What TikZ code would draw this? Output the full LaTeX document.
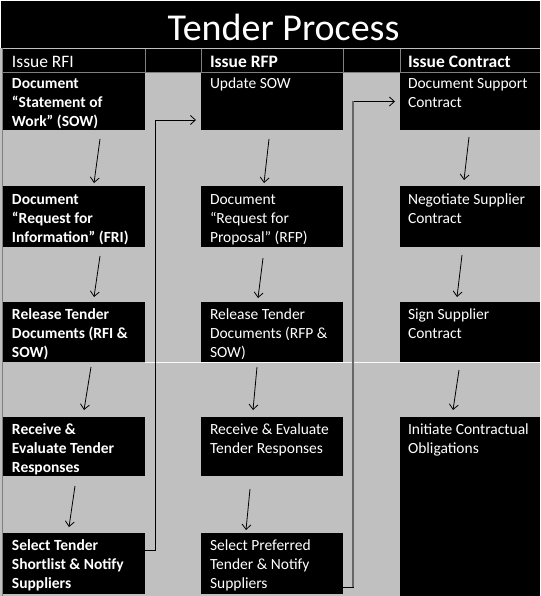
\documentclass[tikz,border=0pt]{standalone}
\usepackage{fontspec}
\setmainfont{Carlito}
\usetikzlibrary{arrows.meta}
\definecolor{bggray}{HTML}{C0C0C0}
\definecolor{bordergray}{HTML}{808080}
\definecolor{linegray}{HTML}{666666}
\begin{document}
\begin{tikzpicture}[x=1pt,y=-1pt,
  cell/.style={fill=black, draw=none, inner sep=0pt, outer sep=0pt, anchor=north west},
  wideA/.style={minimum width=142pt},
  wideC/.style={minimum width=140pt},
  txt/.style={text=white, inner sep=0pt, outer sep=0pt, anchor=north west, align=left,
    font=\fontsize{15.5}{19}\selectfont},
  head/.style={text=white, inner sep=0pt, outer sep=0pt, anchor=base west,
    font=\fontsize{17.5}{21}\selectfont},
  darr/.style={draw=black, line width=0.8pt, -{Straight Barb[length=5pt,width=9pt]}},
  conn/.style={draw=black, line width=0.8pt, -{Straight Barb[length=5pt,width=9pt]}},
  sep/.style={draw=bordergray, line width=0.8pt}
]
\useasboundingbox (0,0) rectangle (540,596);
\fill[white] (0,0) rectangle (540,596);
\fill[bggray] (0,48) rectangle (540,596);
% title bar
\fill[black] (1,1) rectangle (540,48.5);
\node[text=white, inner sep=0pt, anchor=base, font=\fontsize{38}{44}\selectfont] (title) at (283.5,40.5) {Tender Process};
% header row
\fill[black] (3,49) rectangle (540,72);
\draw[sep] (145,49) -- (145,72);
\draw[sep] (201,49) -- (201,72);
\draw[sep] (343,49) -- (343,72);
\draw[sep] (400,49) -- (400,72);
\draw[sep] (3,72.3) -- (540,72.3);
\draw[sep] (2.5,48) -- (2.5,596);
\node[head] (h1) at (12,67.5) {Issue RFI};
\node[head] (h2) at (210,67.5) {\bfseries Issue RFP};
\node[head] (h3) at (408,67.5) {\bfseries Issue Contract};
% boxes column 1
\node[cell,wideA,minimum height=57pt] (b11) at (3,73) {};
\node[cell,wideA,minimum height=61pt] (b12) at (3,186) {};
\node[cell,wideA,minimum height=60pt] (b13) at (3,302) {};
\node[cell,wideA,minimum height=59pt] (b14) at (3,417) {};
\node[cell,wideA,minimum height=61pt] (b15) at (3,533) {};
% boxes column 2
\node[cell,wideA,minimum height=57pt] (b21) at (201,73) {};
\node[cell,wideA,minimum height=61pt] (b22) at (201,186) {};
\node[cell,wideA,minimum height=60pt] (b23) at (201,302) {};
\node[cell,wideA,minimum height=59pt] (b24) at (201,417) {};
\node[cell,wideA,minimum height=61pt] (b25) at (201,533) {};
% boxes column 3
\node[cell,wideC,minimum height=57pt] (b31) at (400,73) {};
\node[cell,wideC,minimum height=61pt] (b32) at (400,186) {};
\node[cell,wideC,minimum height=60pt] (b33) at (400,302) {};
\node[cell,wideC,minimum height=179pt] (b34) at (400,417) {};
% faint white line
\draw[white!90!bggray, line width=0.8pt] (145,362) -- (540,362);
% texts column 1
\node[txt] (t11) at ([xshift=9pt,yshift=-4pt]b11.north west) {\bfseries\rule{0pt}{12pt}Document\\\bfseries “Statement of\\\bfseries Work” (SOW)};
\node[txt] (t12) at ([xshift=9pt,yshift=-6pt]b12.north west) {\bfseries\rule{0pt}{12pt}Document\\\bfseries “Request for\\\bfseries Information” (FRI)};
\node[txt] (t13) at ([xshift=9pt,yshift=-5pt]b13.north west) {\bfseries\rule{0pt}{12pt}Release Tender\\\bfseries Documents (RFI \&\\\bfseries SOW)};
\node[txt] (t14) at ([xshift=9pt,yshift=-5pt]b14.north west) {\bfseries\rule{0pt}{12pt}Receive \&\\\bfseries Evaluate Tender\\\bfseries Responses};
\node[txt] (t15) at ([xshift=9pt,yshift=-5pt]b15.north west) {\bfseries\rule{0pt}{12pt}Select Tender\\\bfseries Shortlist \& Notify\\\bfseries Suppliers};
% texts column 2
\node[txt] (t21) at ([xshift=9pt,yshift=-4pt]b21.north west) {\rule{0pt}{12pt}Update SOW};
\node[txt] (t22) at ([xshift=9pt,yshift=-6pt]b22.north west) {\rule{0pt}{12pt}Document\\“Request for\\Proposal” (RFP)};
\node[txt] (t23) at ([xshift=9pt,yshift=-5pt]b23.north west) {\rule{0pt}{12pt}Release Tender\\Documents (RFP \&\\SOW)};
\node[txt] (t24) at ([xshift=9pt,yshift=-5pt]b24.north west) {\rule{0pt}{12pt}Receive \& Evaluate\\Tender Responses};
\node[txt] (t25) at ([xshift=9pt,yshift=-5pt]b25.north west) {\rule{0pt}{12pt}Select Preferred\\Tender \& Notify\\Suppliers};
% texts column 3
\node[txt] (t31) at ([xshift=8pt,yshift=-4pt]b31.north west) {\rule{0pt}{12pt}Document Support\\Contract};
\node[txt] (t32) at ([xshift=8pt,yshift=-6pt]b32.north west) {\rule{0pt}{12pt}Negotiate Supplier\\Contract};
\node[txt] (t33) at ([xshift=8pt,yshift=-5pt]b33.north west) {\rule{0pt}{12pt}Sign Supplier\\Contract};
\node[txt] (t34) at ([xshift=8pt,yshift=-5pt]b34.north west) {\rule{0pt}{12pt}Initiate Contractual\\Obligations};
% down arrows column 1
\draw[darr] ([xshift=97pt,yshift=-9pt]b11.south west) -- ([xshift=91pt,yshift=3pt]b12.north west);
\draw[darr] ([xshift=97pt,yshift=-9pt]b12.south west) -- ([xshift=91pt,yshift=5pt]b13.north west);
\draw[darr] ([xshift=88pt,yshift=-5pt]b13.south west) -- ([xshift=81pt,yshift=7pt]b14.north west);
\draw[darr] ([xshift=72pt,yshift=-10pt]b14.south west) -- ([xshift=66pt,yshift=6pt]b15.north west);
% down arrows column 2
\draw[darr] ([xshift=68pt,yshift=-9pt]b21.south west) -- ([xshift=63pt,yshift=3pt]b22.north west);
\draw[darr] ([xshift=62pt,yshift=-11pt]b22.south west) -- ([xshift=57pt,yshift=4pt]b23.north west);
\draw[darr] ([xshift=56pt,yshift=-5pt]b23.south west) -- ([xshift=52pt,yshift=7pt]b24.north west);
\draw[darr] ([xshift=49pt,yshift=-13pt]b24.south west) -- ([xshift=45pt,yshift=3pt]b25.north west);
% down arrows column 3
\draw[darr] ([xshift=69pt,yshift=-7pt]b31.south west) -- ([xshift=64pt,yshift=6pt]b32.north west);
\draw[darr] ([xshift=62pt,yshift=-8pt]b32.south west) -- ([xshift=57pt,yshift=5pt]b33.north west);
\draw[darr] ([xshift=59pt,yshift=-8pt]b33.south west) -- ([xshift=53pt,yshift=7pt]b34.north west);
% connectors between columns
\draw[conn] ([yshift=13.5pt]b15.east) -- ++(10,0) |- ([xshift=-5pt,yshift=-18.5pt]b21.west);
\draw[conn] ([yshift=-23.5pt]b25.east) -- ++(10,0) |- ([xshift=-5pt]b31.west);
\draw[linegray, line width=2pt] ([xshift=9.5pt,yshift=-23.5pt]b25.east) -- ([xshift=9.5pt,yshift=0pt]b25.east |- b31.west);
\end{tikzpicture}
\end{document}
